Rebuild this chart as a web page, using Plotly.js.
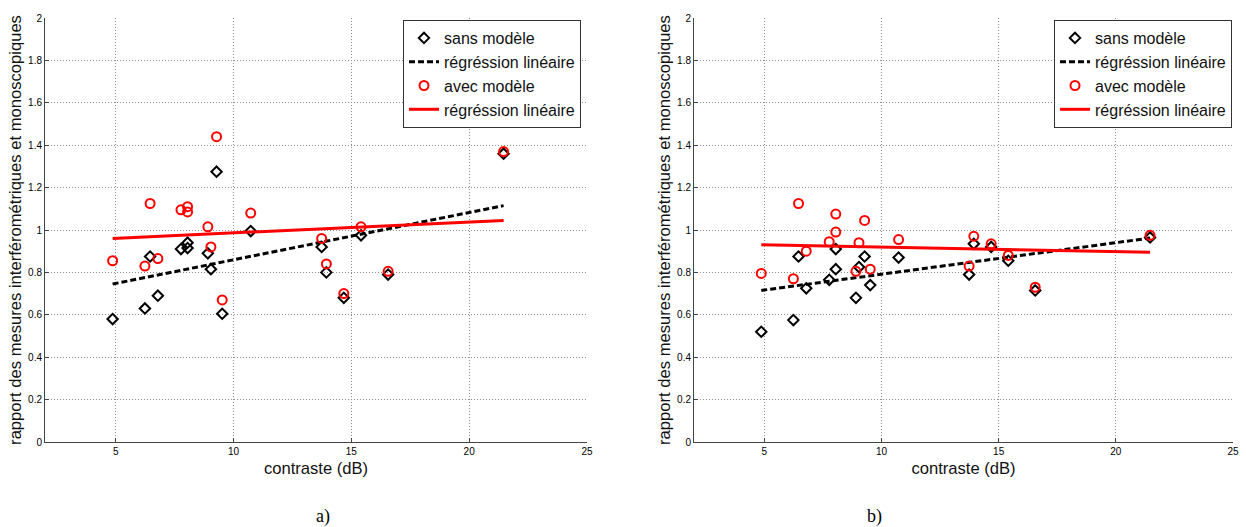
<!DOCTYPE html>
<html>
<head>
<meta charset="utf-8">
<script src="https://cdn.plot.ly/plotly-3.0.1.min.js"></script>
<style>html,body{margin:0;padding:0;background:#fff;}#chart{width:1246px;height:527px;}</style>
</head>
<body>
<div id="chart"></div>
<script>
// contrast values (dB)
const contraste = [4.87, 6.24, 6.46, 6.79, 7.77, 8.05, 8.05, 8.91, 9.04, 9.28, 9.52, 10.73, 13.74, 13.94, 14.68, 15.41, 16.56, 21.46];

// panel a)
const a_sans = [0.58, 0.63, 0.875, 0.69, 0.91, 0.915, 0.94, 0.89, 0.815, 1.275, 0.605, 0.995, 0.92, 0.80, 0.68, 0.975, 0.79, 1.36];
const a_avec = [0.855, 0.83, 1.125, 0.865, 1.095, 1.085, 1.11, 1.015, 0.92, 1.44, 0.67, 1.08, 0.96, 0.84, 0.70, 1.015, 0.805, 1.37];
const a_reg_x = [4.87, 21.46];
const a_reg_sans = [0.745, 1.115];
const a_reg_avec = [0.96, 1.045];

// panel b)
const b_sans = [0.52, 0.575, 0.875, 0.725, 0.765, 0.91, 0.815, 0.68, 0.825, 0.875, 0.74, 0.87, 0.79, 0.935, 0.92, 0.855, 0.715, 0.965];
const b_avec = [0.795, 0.77, 1.125, 0.90, 0.945, 1.075, 0.99, 0.805, 0.94, 1.045, 0.815, 0.955, 0.83, 0.97, 0.935, 0.88, 0.73, 0.975];
const b_reg_x = [4.87, 21.46];
const b_reg_sans = [0.715, 0.962];
const b_reg_avec = [0.93, 0.895];

const legendLabels = ["sans modèle", "régréssion linéaire", "avec modèle", "régréssion linéaire"];
const xTitle = "contraste (dB)";
const yTitle = "rapport des mesures interférométriques et monoscopiques";
const panelLabels = ["a)", "b)"];

function panel(xa, ya, leg, sans, avec, rx, rs, ra) {
  return [
    {x: contraste, y: sans, xaxis: xa, yaxis: ya, legend: leg, type: 'scatter', mode: 'markers', name: legendLabels[0],
     marker: {symbol: 'diamond-open', size: 8, color: '#000', line: {width: 2, color: '#000'}}},
    {x: rx, y: rs, xaxis: xa, yaxis: ya, legend: leg, type: 'scatter', mode: 'lines', name: legendLabels[1],
     line: {color: '#000', width: 3, dash: '6px,3px'}},
    {x: contraste, y: avec, xaxis: xa, yaxis: ya, legend: leg, type: 'scatter', mode: 'markers', name: legendLabels[2],
     marker: {symbol: 'circle-open', size: 9, color: '#ff0000', line: {width: 2, color: '#ff0000'}}},
    {x: rx, y: ra, xaxis: xa, yaxis: ya, legend: leg, type: 'scatter', mode: 'lines', name: legendLabels[3],
     line: {color: '#ff0000', width: 3}}
  ];
}

const data = [].concat(
  panel('x', 'y', 'legend', a_sans, a_avec, a_reg_x, a_reg_sans, a_reg_avec),
  panel('x2', 'y2', 'legend2', b_sans, b_avec, b_reg_x, b_reg_sans, b_reg_avec)
);

const W = 1246, H = 527;
const yDom = [(H - 442) / H, (H - 18) / H];
const tickFont = {family: 'Liberation Sans, Arial, sans-serif', size: 10, color: '#000'};
const titleFont = {family: 'Liberation Sans, Arial, sans-serif', size: 16.6, color: '#111'};

function xax(domain, anchor) {
  return {domain: domain, anchor: anchor, range: [2, 25], tick0: 0, dtick: 5,
    showgrid: true, gridcolor: '#8c8c8c', griddash: '1px,2px', gridwidth: 1,
    showline: true, linecolor: '#444', linewidth: 1, mirror: false,
    ticks: 'inside', ticklen: 4, tickcolor: '#444', zeroline: false,
    tickfont: tickFont, title: {text: xTitle, font: titleFont, standoff: 6}};
}
function yax(anchor) {
  return {domain: yDom, anchor: anchor, range: [0, 2], tick0: 0, dtick: 0.2,
    showgrid: true, gridcolor: '#8c8c8c', griddash: '1px,2px', gridwidth: 1,
    showline: true, linecolor: '#444', linewidth: 1, mirror: false,
    ticks: 'inside', ticklen: 4, tickcolor: '#444', zeroline: false,
    tickfont: tickFont, title: {text: yTitle, font: titleFont, standoff: 2}};
}
function legendAt(xr) {
  return {x: xr / W, xanchor: 'right', y: (H - 20) / H, yanchor: 'top',
    bgcolor: '#fff', bordercolor: '#333', borderwidth: 1,
    font: {family: 'Liberation Sans, Arial, sans-serif', size: 16, color: '#111'},
    tracegroupgap: 0, itemwidth: 30};
}

const layout = {
  width: W, height: H,
  margin: {l: 0, r: 0, t: 0, b: 0},
  paper_bgcolor: '#fff', plot_bgcolor: '#fff',
  showlegend: true,
  xaxis: xax([45 / W, 587 / W], 'y'),
  yaxis: yax('x'),
  xaxis2: xax([694 / W, 1233 / W], 'y2'),
  yaxis2: yax('x2'),
  legend: legendAt(581),
  legend2: legendAt(1232),
  annotations: [
    {text: panelLabels[0], xref: 'paper', yref: 'paper', x: 314 / W, y: (H - 516) / H, yanchor: 'middle', showarrow: false,
     font: {family: 'Liberation Serif, Times New Roman, serif', size: 18, color: '#000'}},
    {text: panelLabels[1], xref: 'paper', yref: 'paper', x: 884 / W, y: (H - 516) / H, yanchor: 'middle', showarrow: false,
     font: {family: 'Liberation Serif, Times New Roman, serif', size: 18, color: '#000'}}
  ]
};

Plotly.newPlot('chart', data, layout, {displayModeBar: false, staticPlot: true});
</script>
</body>
</html>
